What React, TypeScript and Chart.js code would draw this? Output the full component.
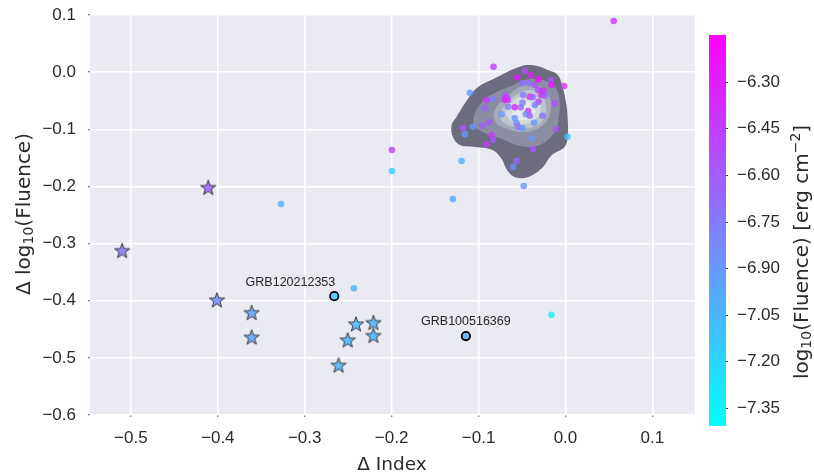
import React, { useEffect, useRef } from 'react';
import { Chart, registerables } from 'chart.js';

Chart.register(...registerables);

// ---------- axes ----------
const X_MIN = -0.547;
const X_MAX = 0.149;
const Y_MIN = -0.6;
const Y_MAX = 0.1;
const xTicks = [-0.5, -0.4, -0.3, -0.2, -0.1, 0.0, 0.1];
const yTicks = [0.1, 0.0, -0.1, -0.2, -0.3, -0.4, -0.5, -0.6];

// ---------- colour bar ----------
const CB_MIN = -7.409;
const CB_MAX = -6.149;
const cbTicks = [-6.3, -6.45, -6.6, -6.75, -6.9, -7.05, -7.2, -7.35];

// ---------- bursts (circles) ----------
const burstX = [
  0.0555, -0.1997, -0.1997, -0.3272, -0.2434, -0.1195, -0.1295, -0.048, -0.0161, 0.0023,
  -0.0828, -0.11, -0.0016, -0.0602, -0.0563, -0.0372, -0.039, -0.0111, -0.0908, -0.085,
  -0.0832, -0.1157, -0.1177, -0.1065, -0.0959, -0.0878, -0.0928, -0.0908, -0.0832, -0.0736,
  -0.0698, -0.0678, -0.0663, -0.066, -0.0583, -0.0563, -0.0545, -0.0494, -0.0583, -0.0514,
  -0.0494, -0.0487, -0.0556, -0.0468, -0.0494, -0.0399, -0.0418, -0.0353, -0.0315, -0.0169,
  -0.0161, -0.0315, -0.0257, -0.0246, -0.0276, -0.041, -0.0378, -0.031, -0.0353, -0.0123,
  -0.0264, -0.0361, -0.043, -0.0456, -0.041, -0.0698, -0.0235,
];
const burstY = [
  0.0895, -0.1363, -0.173, -0.2308, -0.3784, -0.1555, -0.2222, -0.1993, -0.4245, -0.113,
  0.0095, -0.036, -0.0242, -0.1655, -0.1555, -0.1345, -0.1158, -0.1, -0.1263, -0.11,
  -0.1188, -0.1088, -0.0978, -0.0955, -0.0937, -0.0878, -0.0633, -0.0488, -0.0476, -0.0738,
  -0.04, -0.0447, -0.0488, -0.0605, -0.0808, -0.0895, -0.0955, -0.0983, -0.0616, -0.0616,
  -0.0535, -0.04, -0.009, 0.0025, -0.0195, -0.005, -0.0195, -0.0225, -0.0125, -0.0138,
  -0.0225, -0.0313, -0.0325, -0.037, -0.04, -0.043, -0.044, -0.0517, -0.0575, -0.0546,
  -0.0762, -0.0885, -0.068, -0.0738, -0.0762, -0.0488, -0.0415,
];
const burstLogF = [
  -6.4, -6.46, -7.16, -7.03, -7.03, -7.03, -6.97, -6.9, -7.31, -7.12,
  -6.46, -6.9, -6.4, -6.84, -6.65, -6.59, -6.9, -6.59, -6.46, -6.4,
  -6.59, -6.9, -6.59, -6.88, -6.63, -6.59, -6.65, -6.4, -6.78, -6.88,
  -6.63, -6.34, -6.46, -6.78, -6.88, -6.84, -6.72, -6.9, -6.34, -6.65,
  -6.78, -6.72, -6.28, -6.53, -6.72, -6.28, -6.72, -6.53, -6.21, -6.53,
  -6.28, -6.53, -6.34, -6.53, -6.34, -6.28, -6.65, -6.46, -6.78, -6.53,
  -6.72, -6.9, -6.4, -6.84, -6.65, -6.34, -6.65,
];

// ---------- stars ----------
const starX = [-0.411, -0.510, -0.401, -0.361, -0.361, -0.241, -0.221, -0.221, -0.2506, -0.261];
const starY = [-0.202, -0.3125, -0.399, -0.421, -0.464, -0.441, -0.4385, -0.461, -0.469, -0.513];
const starLogF = [-6.63, -6.75, -6.83, -6.955, -6.955, -7.05, -7.05, -7.05, -7.05, -7.05];

// ---------- labelled bursts ----------
const grbNames = ['GRB120212353', 'GRB100516369'];
const grbX = [-0.266, -0.1146];
const grbY = [-0.392, -0.4618];
const grbLogF = [-7.16, -6.97];

// ---------- KDE contour levels (data units, outer to inner) ----------
const level1 = [
  [-0.1253, -0.078], [-0.1146, -0.0523], [-0.1023, -0.0283], [-0.0813, -0.0108], [-0.0525, 0.0095],
  [-0.0353, 0.0116], [-0.0203, 0.0037], [-0.0089, -0.005], [-0.0031, -0.0278], [0.0011, -0.0575],
  [0.0026, -0.0838], [0.0026, -0.11], [-0.0008, -0.1305], [-0.0157, -0.145], [-0.027, -0.1678],
  [-0.043, -0.1835], [-0.057, -0.1844], [-0.066, -0.174], [-0.0744, -0.15], [-0.0847, -0.136],
  [-0.1042, -0.131], [-0.1215, -0.1275], [-0.1295, -0.1135], [-0.131, -0.0925],
];
const level2 = [
  [-0.1031, -0.0663], [-0.0939, -0.0488], [-0.0813, -0.0365], [-0.0621, -0.0243], [-0.0468, -0.0138],
  [-0.0295, -0.0129], [-0.0157, -0.0208], [-0.0089, -0.0348], [-0.0066, -0.0575], [-0.0077, -0.0785],
  [-0.0103, -0.0978], [-0.0203, -0.1188], [-0.0353, -0.1301], [-0.0525, -0.1293], [-0.0732, -0.117],
  [-0.0928, -0.1065], [-0.1054, -0.0925],
];
const level3 = [
  [-0.0836, -0.075], [-0.0778, -0.0575], [-0.0663, -0.0418], [-0.0548, -0.0278], [-0.041, -0.0208],
  [-0.0261, -0.0278], [-0.018, -0.0435], [-0.0169, -0.0663], [-0.0226, -0.0873], [-0.0353, -0.1013],
  [-0.0525, -0.1048], [-0.0663, -0.0995], [-0.079, -0.0908],
];
const level4 = [
  [-0.0755, -0.0715], [-0.0663, -0.0523], [-0.0548, -0.0383], [-0.041, -0.0313], [-0.0284, -0.0383],
  [-0.0226, -0.0558], [-0.0238, -0.0768], [-0.0318, -0.0925], [-0.0468, -0.0978], [-0.0629, -0.0943],
  [-0.0732, -0.0855],
];
const level5 = [
  [-0.0698, -0.0698], [-0.0617, -0.0523], [-0.0502, -0.0418], [-0.0376, -0.04], [-0.0295, -0.0523],
  [-0.0295, -0.0733], [-0.0376, -0.0855], [-0.0502, -0.0908], [-0.0629, -0.0855],
];
const level6 = [
  [-0.0617, -0.068], [-0.0525, -0.054], [-0.041, -0.0523], [-0.0353, -0.0645], [-0.0376, -0.0785],
  [-0.0491, -0.0838], [-0.0583, -0.0803],
];
const levels = [level1, level2, level3, level4, level5, level6];
const levelColors = [
  'rgb(108,108,126)',
  'rgb(139,141,160)',
  'rgb(164,170,185)',
  'rgb(188,198,205)',
  'rgb(208,220,221)',
  'rgb(226,236,234)',
];

const FONT = '"Liberation Sans", Arial, Helvetica, sans-serif';
const MFONT = '"DejaVu Sans", Verdana, sans-serif';
const TEXT = '#2a2a2a';

function coolRGB(v: number): [number, number, number] {
  let t = (v - CB_MIN) / (CB_MAX - CB_MIN);
  t = Math.max(0, Math.min(1, t));
  return [Math.round(255 * t), Math.round(255 * (1 - t)), 255];
}
function cool(v: number, a = 1): string {
  const [r, g, b] = coolRGB(v);
  return `rgba(${r},${g},${b},${a})`;
}

function makeStar(fill: string): HTMLCanvasElement {
  const c = document.createElement('canvas');
  const S = 20;
  c.width = S;
  c.height = S;
  const ctx = c.getContext('2d')!;
  const cx = S / 2;
  const cy = S / 2 + 0.5;
  const R = 8;
  const r = R * 0.4;
  ctx.beginPath();
  for (let i = 0; i < 10; i++) {
    const ang = -Math.PI / 2 + (i * Math.PI) / 5;
    const rad = i % 2 === 0 ? R : r;
    const px = cx + rad * Math.cos(ang);
    const py = cy + rad * Math.sin(ang);
    if (i === 0) ctx.moveTo(px, py);
    else ctx.lineTo(px, py);
  }
  ctx.closePath();
  ctx.fillStyle = fill;
  ctx.fill();
  ctx.lineWidth = 1;
  ctx.strokeStyle = '#3a3a3a';
  ctx.lineJoin = 'miter';
  ctx.stroke();
  return c;
}

function fmt(v: number, d: number): string {
  if (Math.abs(v) < 1e-9) v = 0;
  return (v < 0 ? '\u2212' : '') + Math.abs(v).toFixed(d);
}

type Part = { t: string; s: number; dy: number };
function drawParts(ctx: CanvasRenderingContext2D, parts: Part[], size: number, family: string, cx: number, cy: number, rot: number) {
  ctx.save();
  ctx.translate(cx, cy);
  ctx.rotate(rot);
  ctx.textBaseline = 'middle';
  ctx.textAlign = 'left';
  let total = 0;
  const widths: number[] = [];
  for (const p of parts) {
    ctx.font = `${size * p.s}px ${family}`;
    const w = ctx.measureText(p.t).width;
    widths.push(w);
    total += w;
  }
  let x = -total / 2;
  parts.forEach((p, i) => {
    ctx.font = `${size * p.s}px ${family}`;
    ctx.fillText(p.t, x, p.dy * size);
    x += widths[i];
  });
  ctx.restore();
}

const decorPlugin = {
  id: 'decor',
  beforeDraw(chart: any) {
    const { ctx, chartArea: a } = chart;
    ctx.save();
    ctx.fillStyle = '#eaeaf2';
    ctx.fillRect(a.left, a.top, a.right - a.left, a.bottom - a.top);
    ctx.restore();
  },
  afterDraw(chart: any) {
    const { ctx, chartArea: a } = chart;
    const xs = chart.scales.x;
    const ys = chart.scales.y;
    ctx.save();
    ctx.fillStyle = TEXT;

    // axis titles
    drawParts(ctx, [{ t: '\u0394 Index', s: 1, dy: 0 }], 18.5, MFONT, 392, 465, 0);
    drawParts(
      ctx,
      [
        { t: '\u0394 log', s: 1, dy: 0 },
        { t: '10', s: 0.7, dy: 0.22 },
        { t: '(Fluence)', s: 1, dy: 0 },
      ],
      20,
      MFONT,
      25,
      214,
      -Math.PI / 2
    );

    // colour bar
    const cbL = a.right + 14;
    const cbW = 17;
    const cbT = 35;
    const cbB = 426;
    const grad = ctx.createLinearGradient(0, cbB, 0, cbT);
    grad.addColorStop(0, cool(CB_MIN));
    grad.addColorStop(0.5, cool((CB_MIN + CB_MAX) / 2));
    grad.addColorStop(1, cool(CB_MAX));
    ctx.fillStyle = grad;
    ctx.fillRect(cbL, cbT, cbW, cbB - cbT);
    const cbY = (v: number) => cbB - ((v - CB_MIN) / (CB_MAX - CB_MIN)) * (cbB - cbT);
    ctx.fillStyle = TEXT;
    ctx.strokeStyle = '#444';
    ctx.lineWidth = 1;
    ctx.font = `17px ${FONT}`;
    ctx.textAlign = 'left';
    ctx.textBaseline = 'middle';
    for (const v of cbTicks) {
      const y = Math.round(cbY(v)) + 0.5;
      ctx.beginPath();
      ctx.moveTo(cbL + cbW, y);
      ctx.lineTo(cbL + cbW + 2, y);
      ctx.stroke();
      ctx.fillText(fmt(v, 2), cbL + cbW + 11, y);
    }
    drawParts(
      ctx,
      [
        { t: 'log', s: 1, dy: 0 },
        { t: '10', s: 0.7, dy: 0.22 },
        { t: '(Fluence) [erg cm', s: 1, dy: 0 },
        { t: '\u22122', s: 0.7, dy: -0.35 },
        { t: ']', s: 1, dy: 0 },
      ],
      20,
      MFONT,
      803,
      252,
      -Math.PI / 2
    );

    // annotations
    ctx.font = `12.5px ${FONT}`;
    ctx.fillStyle = '#262626';
    ctx.textBaseline = 'middle';
    const px0 = xs.getPixelForValue(grbX[0]);
    const py0 = ys.getPixelForValue(grbY[0]);
    ctx.textAlign = 'right';
    ctx.fillText(grbNames[0], px0 + 1, py0 - 14);
    const px1 = xs.getPixelForValue(grbX[1]);
    const py1 = ys.getPixelForValue(grbY[1]);
    ctx.textAlign = 'center';
    ctx.fillText(grbNames[1], px1, py1 - 14);
    ctx.restore();
  },
};

export default function App() {
  const ref = useRef<HTMLCanvasElement | null>(null);
  useEffect(() => {
    if (!ref.current) return;
    const starImgs = starLogF.map((v) => makeStar(cool(v, 0.85)));

    const contourSets = levels.map((lv, i) => ({
      type: 'scatter' as const,
      data: [...lv, lv[0]].map(([x, y]) => ({ x, y })),
      showLine: true,
      fill: 'shape',
      backgroundColor: levelColors[i],
      borderColor: 'rgba(0,0,0,0)',
      borderWidth: 0,
      pointRadius: 0,
      tension: 0.4,
      order: 10 - i,
    }));

    const chart = new Chart(ref.current, {
      type: 'scatter',
      data: {
        datasets: [
          {
            data: grbX.map((x, i) => ({ x, y: grbY[i] })),
            pointRadius: 4.2,
            backgroundColor: grbLogF.map((v) => cool(v, 0.8)),
            borderColor: '#000',
            borderWidth: 1.8,
            order: 0,
          },
          {
            data: starX.map((x, i) => ({ x, y: starY[i] })),
            pointStyle: starImgs as any,
            pointRadius: 8,
            order: 1,
          },
          {
            data: burstX.map((x, i) => ({ x, y: burstY[i] })),
            pointRadius: 3.3,
            backgroundColor: burstLogF.map((v) => cool(v, 0.8)),
            borderWidth: 0,
            order: 2,
          },
          ...(contourSets as any[]),
        ],
      },
      options: {
        animation: false,
        responsive: false,
        events: [],
        layout: { padding: { left: 0, right: 119, top: 15, bottom: 0 } },
        plugins: { legend: { display: false }, tooltip: { enabled: false } },
        scales: {
          x: {
            type: 'linear',
            min: X_MIN,
            max: X_MAX,
            afterFit: (s: any) => {
              s.height = 57;
              s.paddingLeft = 0;
              s.paddingRight = 0;
            },
            afterBuildTicks: (s: any) => {
              s.ticks = xTicks.map((value) => ({ value }));
            },
            border: { display: false },
            grid: { color: '#ffffff', lineWidth: 1.5, tickColor: '#555', tickLength: 2, tickWidth: 1 },
            ticks: {
              color: TEXT,
              font: { family: FONT, size: 17 },
              padding: 11,
              maxRotation: 0,
              callback: (v: any) => fmt(Number(v), 1),
            },
          },
          y: {
            type: 'linear',
            min: Y_MIN,
            max: Y_MAX,
            afterFit: (s: any) => {
              s.width = 90;
              s.paddingTop = 0;
              s.paddingBottom = 0;
            },
            afterBuildTicks: (s: any) => {
              s.ticks = yTicks.map((value) => ({ value }));
            },
            border: { display: false },
            grid: { color: '#ffffff', lineWidth: 1.5, tickColor: '#555', tickLength: 2, tickWidth: 1 },
            ticks: {
              color: TEXT,
              font: { family: FONT, size: 17 },
              padding: 12,
              callback: (v: any) => fmt(Number(v), 1),
            },
          },
        },
      },
      plugins: [decorPlugin],
    } as any);
    return () => chart.destroy();
  }, []);

  return (
    <div style={{ position: 'absolute', left: 0, top: 0, width: 814, height: 472, background: '#fff' }}>
      <canvas ref={ref} width={814} height={472} style={{ display: 'block' }} />
    </div>
  );
}
